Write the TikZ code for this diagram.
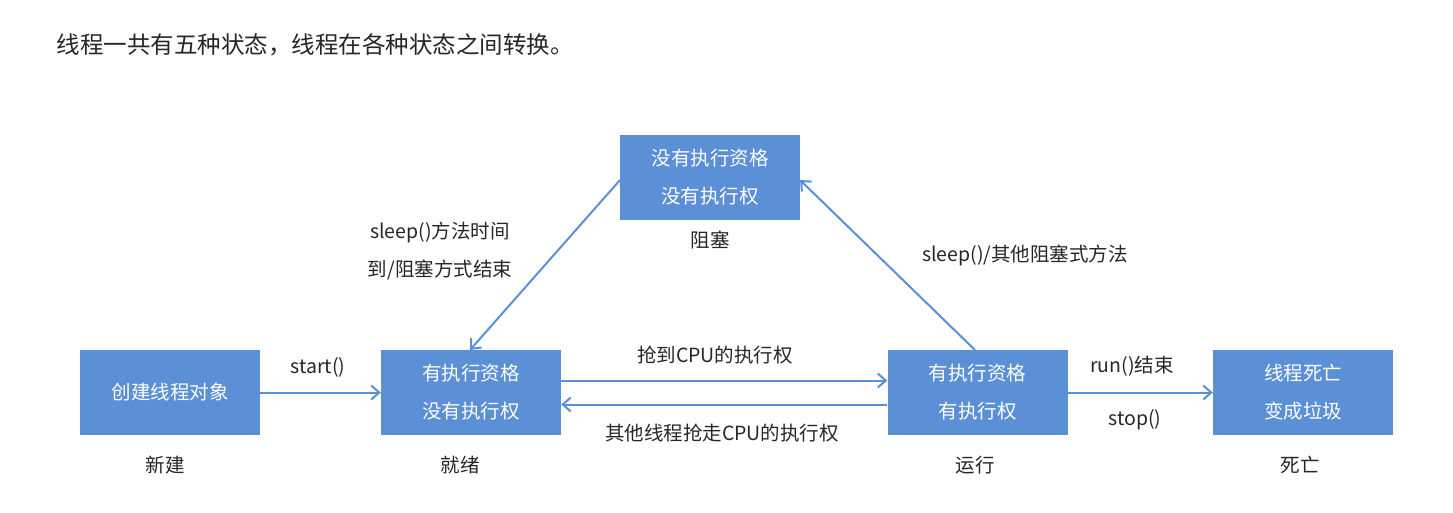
\documentclass[tikz,border=0pt]{standalone}
\usepackage{fontspec}
\setmainfont{Noto Sans CJK SC}
\usetikzlibrary{arrows.meta}
\definecolor{bx}{HTML}{5B8FD6}
\definecolor{ar}{HTML}{5B8FD6}
\begin{document}
\begin{tikzpicture}[x=1pt,y=-1pt,
  st/.style={fill=bx,text=white,minimum width=180pt,minimum height=85pt,inner sep=0pt,align=center,font=\fontsize{19.5}{38}\selectfont},
  lb/.style={font=\fontsize{19.5}{38}\selectfont,text=black!85,align=center},
  arr/.style={draw=ar,line width=2pt,-{Straight Barb[length=8pt,width=14pt]}}]
\useasboundingbox (0,0) rectangle (1453,512);
\node[anchor=west,font=\fontsize{23.5}{28}\selectfont,text=black!85] (title) at (53,45) {线程一共有五种状态，线程在各种状态之间转换。};
\node[st] (new) at (170,392.5) {创建线程对象};
\node[st] (ready) at (471,392.5) {有执行资格\\没有执行权};
\node[st] (run) at (977.5,392.5) {有执行资格\\有执行权};
\node[st] (dead) at (1303,392.5) {线程死亡\\变成垃圾};
\node[st] (block) at (710,177.5) {没有执行资格\\没有执行权};
\node[lb] (l1) at (165,465) {新建};
\node[lb] (l2) at (460,465) {就绪};
\node[lb] (l3) at (975,465) {运行};
\node[lb] (l4) at (1300,465) {死亡};
\node[lb] (l5) at (710,240) {阻塞};
\draw[arr] (new.east) -- (ready.west);
\node[lb] (t1) at (318,367) {start()};
\draw[arr] ([yshift=12pt]ready.east) -- ([yshift=12pt]run.west);
\node[lb] (t2) at (715,355) {抢到CPU的执行权};
\draw[arr] ([yshift=-12pt]run.west) -- ([yshift=-12pt]ready.east);
\node[lb] (t3) at (722,433) {其他线程抢走CPU的执行权};
\draw[arr] (run.east) -- (dead.west);
\node[lb] (t4) at (1132,366) {run()结束};
\node[lb] (t5) at (1135,420) {stop()};
\coordinate (rs) at (975,350);
\coordinate (be) at (800,180);
\draw[arr] (rs) -- (be);
\node[lb] (t6) at (1025,255) {sleep()/其他阻塞式方法};
\coordinate (bs) at (620,180);
\coordinate (re) at (470,350);
\draw[arr] (bs) -- (re);
\node[lb] (t7) at (440,251) {sleep()方法时间\\到/阻塞方式结束};
\end{tikzpicture}
\end{document}
